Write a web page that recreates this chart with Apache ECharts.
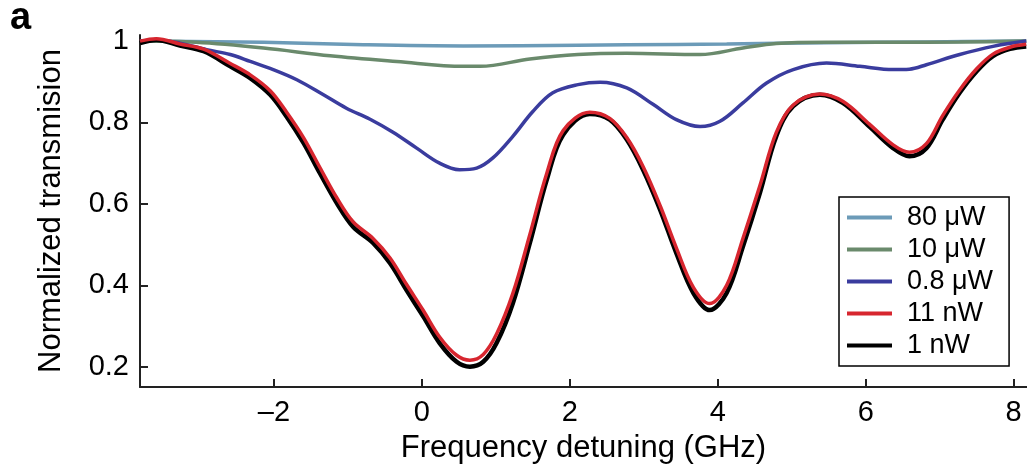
<!DOCTYPE html>
<html>
<head>
<meta charset="utf-8">
<script src="https://cdn.jsdelivr.net/npm/echarts@6/dist/echarts.min.js"></script>
<style>
html, body { margin: 0; padding: 0; background: #fff; }
#main { width: 1027px; height: 472px; }
</style>
</head>
<body>
<div id="main"></div>
<script>
// values: [detuning GHz, normalized transmission]
var names = ['80 \u03bcW', '10 \u03bcW', '0.8 \u03bcW', '11 nW', '1 nW'];
var colors = ['#6c9bb8', '#6a8a6c', '#3a3c9e', '#d7262f', '#000000'];

var p80uW = [[-3.81, 1.0], [-2.14, 0.997], [-0.79, 0.991], [0.56, 0.988], [2.11, 0.990],
    [2.77, 0.991], [4.12, 0.993], [5.47, 0.996], [6.82, 0.998], [8.17, 1.0]];

var p10uW = [[-3.81, 1.0], [-3.05, 0.997], [-2.14, 0.983], [-1.24, 0.964], [-0.34, 0.950],
    [0.56, 0.938], [0.79, 0.938], [1.46, 0.956], [2.11, 0.967], [2.77, 0.970],
    [3.76, 0.967], [4.34, 0.983], [4.79, 0.994], [5.47, 0.997], [6.37, 0.997],
    [7.27, 0.998], [8.17, 1.0]];

var p08uW = [[-3.81, 1.0], [-3.59, 1.003], [-3.27, 0.995], [-2.91, 0.979], [-2.59, 0.967],
    [-2.32, 0.950], [-2.01, 0.930], [-1.69, 0.905], [-1.33, 0.868], [-1.02, 0.835],
    [-0.70, 0.808], [-0.39, 0.776], [-0.07, 0.737], [0.24, 0.700], [0.51, 0.684],
    [0.74, 0.688], [0.96, 0.713], [1.23, 0.766], [1.50, 0.827], [1.77, 0.873],
    [2.11, 0.893], [2.41, 0.899], [2.77, 0.885], [3.13, 0.844], [3.44, 0.807],
    [3.76, 0.790], [4.03, 0.803], [4.34, 0.848], [4.66, 0.897], [5.02, 0.930],
    [5.47, 0.946], [5.92, 0.938], [6.37, 0.930], [6.59, 0.931], [6.82, 0.942],
    [7.27, 0.967], [7.72, 0.987], [8.17, 1.0]];

var p11nW = [[-3.81, 1.0], [-3.59, 1.006], [-3.27, 0.993], [-2.95, 0.980], [-2.59, 0.945],
    [-2.32, 0.917], [-2.05, 0.878], [-1.83, 0.826], [-1.60, 0.763], [-1.38, 0.690],
    [-1.15, 0.615], [-0.93, 0.556], [-0.66, 0.515], [-0.43, 0.467], [-0.21, 0.403],
    [0.02, 0.338], [0.24, 0.273], [0.47, 0.228], [0.65, 0.216], [0.83, 0.230],
    [1.01, 0.280], [1.23, 0.380], [1.46, 0.525], [1.69, 0.676], [1.91, 0.780],
    [2.27, 0.825], [2.54, 0.810], [2.77, 0.763], [2.99, 0.692], [3.22, 0.596],
    [3.44, 0.492], [3.67, 0.395], [3.89, 0.355], [4.12, 0.400], [4.34, 0.515],
    [4.57, 0.645], [4.79, 0.775], [5.02, 0.843], [5.38, 0.870], [5.69, 0.852],
    [6.05, 0.796], [6.37, 0.745], [6.59, 0.727], [6.82, 0.748], [7.04, 0.817],
    [7.27, 0.880], [7.50, 0.932], [7.72, 0.968], [7.95, 0.985], [8.17, 0.992]];

var p1nW = [[-3.81, 0.995], [-3.59, 1.003], [-3.27, 0.989], [-2.95, 0.975], [-2.59, 0.938],
    [-2.32, 0.909], [-2.05, 0.868], [-1.83, 0.815], [-1.60, 0.750], [-1.38, 0.676],
    [-1.15, 0.602], [-0.93, 0.544], [-0.66, 0.504], [-0.43, 0.454], [-0.21, 0.389],
    [0.02, 0.323], [0.24, 0.258], [0.47, 0.212], [0.65, 0.200], [0.83, 0.212],
    [1.01, 0.258], [1.23, 0.356], [1.46, 0.504], [1.69, 0.660], [1.91, 0.770],
    [2.27, 0.821], [2.54, 0.807], [2.77, 0.758], [2.99, 0.684], [3.22, 0.586],
    [3.44, 0.479], [3.67, 0.381], [3.89, 0.339], [4.12, 0.381], [4.34, 0.495],
    [4.57, 0.627], [4.79, 0.766], [5.02, 0.840], [5.38, 0.868], [5.69, 0.848],
    [6.05, 0.790], [6.37, 0.737], [6.59, 0.717], [6.82, 0.737], [7.04, 0.807],
    [7.27, 0.873], [7.50, 0.926], [7.72, 0.963], [7.95, 0.981], [8.17, 0.987]];

var xTicks = [-2, 0, 2, 4, 6, 8];
var yTicks = [0.2, 0.4, 0.6, 0.8, 1];

var allData = [p80uW, p10uW, p08uW, p11nW, p1nW];
var widths = [3.5, 3.5, 3.5, 3.5, 4.5];
var zs = [3, 3, 3, 5, 4];

var font = '"Liberation Sans", Arial, Helvetica, sans-serif';
var myChart = echarts.init(document.getElementById('main'));

var seriesarr = [];
for (var i = 0; i < names.length; i++) {
    seriesarr.push({
        name: names[i],
        type: 'line',
        data: allData[i],
        smooth: 0.35,
        showSymbol: false,
        z: zs[i],
        color: colors[i],
        lineStyle: { color: colors[i], width: widths[i] }
    });
}

var option = {
    animation: false,
    backgroundColor: '#fff',
    graphic: [{
        type: 'text',
        x: 10,
        y: 19,
        style: {
            text: 'a',
            fontFamily: font,
            fontWeight: 'bold',
            fontSize: 38,
            fill: '#000',
            verticalAlign: 'middle'
        }
    }],
    grid: { left: 140, top: 35, right: 0, bottom: 85, containLabel: false },
    legend: {
        data: names,
        orient: 'vertical',
        left: 839,
        top: 197,
        icon: 'rect',
        itemWidth: 45,
        itemHeight: 4,
        itemGap: 5,
        padding: [7, 16, 7, 8],
        borderColor: '#000',
        borderWidth: 1.5,
        backgroundColor: '#fff',
        textStyle: {
            fontFamily: font,
            fontSize: 27,
            lineHeight: 27,
            color: '#000',
            padding: [0, 0, 0, 10]
        }
    },
    xAxis: {
        type: 'value',
        min: -3.81,
        max: 8.18,
        name: 'Frequency detuning (GHz)',
        nameLocation: 'middle',
        nameGap: 46,
        nameTextStyle: { fontFamily: font, fontSize: 31, color: '#000' },
        axisLine: { show: true, onZero: false, lineStyle: { color: '#222', width: 2 } },
        axisTick: { show: true, inside: true, length: 8, customValues: xTicks, lineStyle: { color: '#222', width: 2 } },
        axisLabel: {
            customValues: xTicks,
            margin: 11,
            fontFamily: font,
            fontSize: 29,
            color: '#000',
            formatter: function (v) { return v < 0 ? '\u2013' + (-v) : String(v); }
        },
        splitLine: { show: false }
    },
    yAxis: {
        type: 'value',
        min: 0.15,
        max: 1.015,
        name: 'Normalized transmision',
        nameLocation: 'middle',
        nameGap: 73,
        nameTextStyle: { fontFamily: font, fontSize: 31, color: '#000' },
        axisLine: { show: true, onZero: false, lineStyle: { color: '#222', width: 2 } },
        axisTick: { show: true, inside: true, length: 8, customValues: yTicks, lineStyle: { color: '#222', width: 2 } },
        axisLabel: {
            customValues: yTicks,
            margin: 11,
            fontFamily: font,
            fontSize: 29,
            color: '#000',
            formatter: function (v) { return v === 1 ? '1' : v.toFixed(1); }
        },
        splitLine: { show: false }
    },
    series: seriesarr
};

myChart.setOption(option);
</script>
</body>
</html>
